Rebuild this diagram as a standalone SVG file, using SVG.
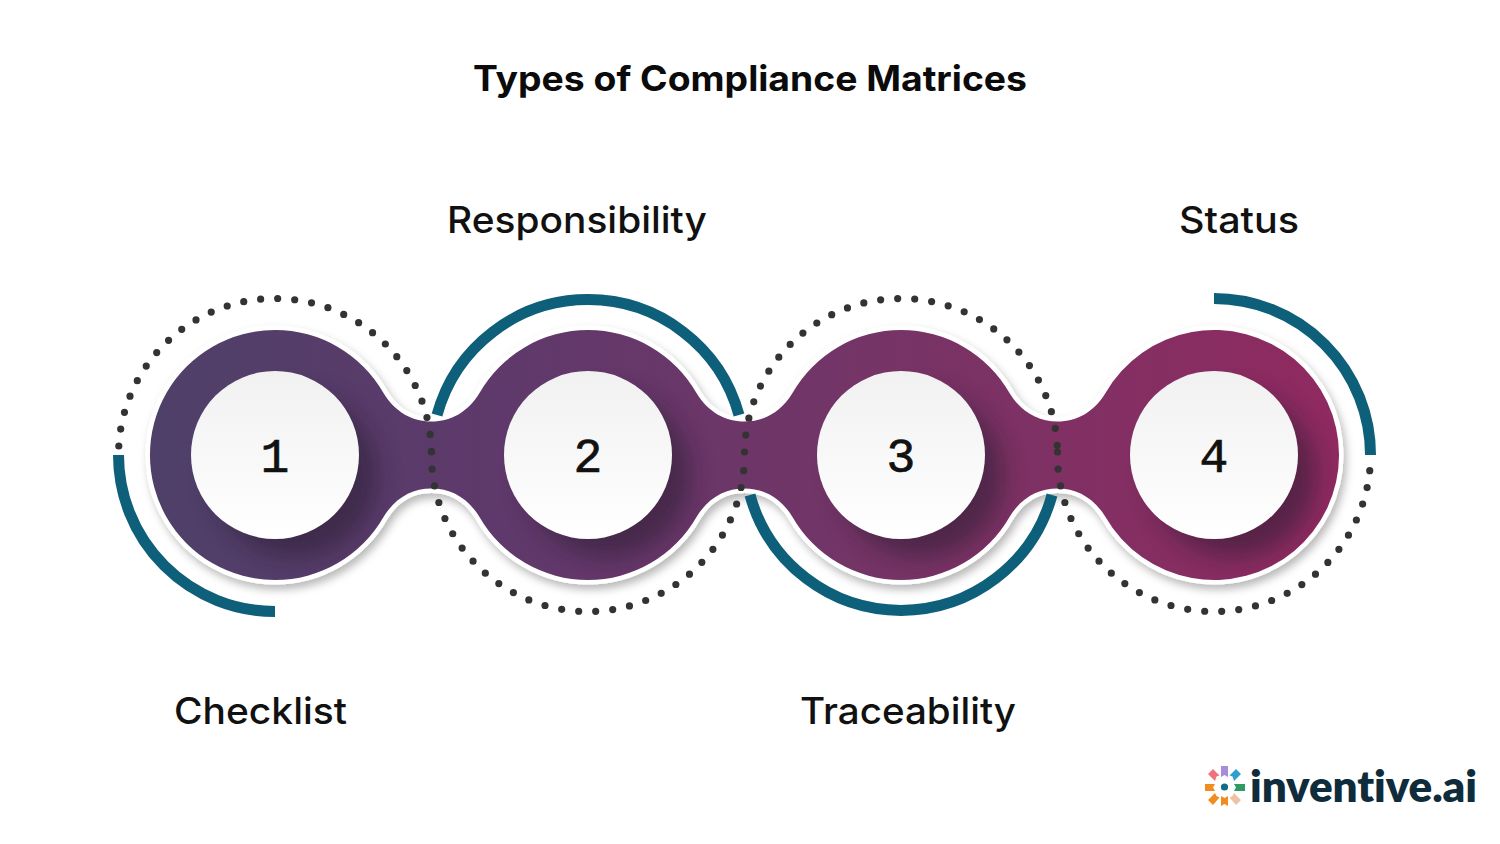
<svg xmlns="http://www.w3.org/2000/svg" width="1500" height="844" viewBox="0 0 1500 844">
<style>
.t{font-family:Inter,"Noto Sans","Liberation Sans",sans-serif;font-size:37px;font-weight:500;fill:#111}
.n{font-family:"Liberation Mono","DejaVu Sans Mono",monospace;font-size:48px;fill:#111;stroke:#111;stroke-width:.7;text-anchor:middle}
.arc{fill:none;stroke:#0e5f79;stroke-width:11}
.dots{fill:none;stroke:#333;stroke-width:7.2;stroke-linecap:round;stroke-dasharray:0 17.1}
.disc{fill:url(#disc)}
.shade{fill:#2a1a30;opacity:.55;filter:url(#blur)}
</style>
<defs>
<linearGradient id="body" gradientUnits="userSpaceOnUse" x1="150" y1="0" x2="1340" y2="0">
<stop offset="0" stop-color="#4e4069"/><stop offset=".3" stop-color="#5f396b"/><stop offset=".62" stop-color="#763466"/><stop offset="1" stop-color="#902a60"/>
</linearGradient>
<linearGradient id="disc" x1="0" y1="0" x2="0" y2="1"><stop offset="0" stop-color="#f1f1f1"/><stop offset="1" stop-color="#fff"/></linearGradient>
<filter id="blur" x="-30%" y="-30%" width="160%" height="160%"><feGaussianBlur stdDeviation="12"/></filter>
<filter id="rim" x="-5%" y="-15%" width="110%" height="130%"><feDropShadow dx="3" dy="5" stdDeviation="4" flood-color="#000" flood-opacity=".28"/></filter>
<path id="blob" d="M166.700 392.500A125 125 0 0 1 383.500 393C395 412 412 421.500 431.500 421.500C451 421.500 468 412 479.500 393A125 125 0 0 1 696.500 393C708 412 725 421.500 744.500 421.500C764 421.500 781 412 792.500 393A125 125 0 0 1 1009.500 393C1021 412 1038 421.500 1057.500 421.500C1077 421.500 1094 412 1105.500 393A125 125 0 1 1 1105.500 517C1094 498 1077 488.500 1057.500 488.500C1038 488.500 1021 498 1009.500 517A125 125 0 0 1 792.500 517C781 498 764 488.500 744.500 488.500C725 488.500 708 498 696.500 517A125 125 0 0 1 479.500 517C468 498 451 488.500 431.500 488.500C412 488.500 395 498 383.500 517A125 125 0 0 1 166.700 517.500A125 125 0 0 1 166.700 392.500Z"/>
<clipPath id="blobclip"><use href="#blob"/></clipPath>
</defs>
<rect width="1500" height="844" fill="#fff"/>
<text x="473" y="91" textLength="554" lengthAdjust="spacingAndGlyphs" style="font-family:Inter,'Noto Sans',sans-serif;font-size:35px;font-weight:700;fill:#0b0b0b">Types of Compliance Matrices</text>
<g id="chain">
<use href="#blob" fill="#fff" stroke="#fff" stroke-width="9" filter="url(#rim)"/>
<use href="#blob" fill="url(#body)"/>
<g clip-path="url(#blobclip)">
<circle class="shade" cx="295" cy="475" r="82"/><circle class="shade" cx="608" cy="475" r="82"/><circle class="shade" cx="921" cy="475" r="82"/><circle class="shade" cx="1234" cy="475" r="82"/>
</g>
</g>
<g id="connectors">
<path class="dots" d="M118.800 446A156.500 156.500 0 0 1 275 298.500A156.500 156.500 0 0 1 431.500 455"/>
<path class="dots" d="M431.500 452A156.500 156.500 0 0 0 588 611.500A156.500 156.500 0 0 0 744.500 455"/>
<path class="dots" d="M744.500 452A156.500 156.500 0 0 1 901 298.500A156.500 156.500 0 0 1 1057.500 455"/>
<path class="dots" d="M1057.500 452A156.500 156.500 0 0 0 1214 611.500A156.500 156.500 0 0 0 1370.200 465"/>
<path class="arc" d="M118.500 455A156.500 156.500 0 0 0 275 611.500"/>
<path class="arc" d="M437 415A156.500 156.500 0 0 1 739 415"/>
<path class="arc" d="M750 495A156.500 156.500 0 0 0 1052 495"/>
<path class="arc" d="M1214 298.500A156.500 156.500 0 0 1 1370.500 455"/>
</g>
<g id="node1"><circle class="disc" cx="275" cy="455" r="84"/><text class="n" x="275" y="471.500">1</text><text class="t" x="174" y="724" textLength="173" lengthAdjust="spacingAndGlyphs">Checklist</text></g>
<g id="node2"><circle class="disc" cx="588" cy="455" r="84"/><text class="n" x="588" y="471.500">2</text><text class="t" x="447" y="233" textLength="260" lengthAdjust="spacingAndGlyphs">Responsibility</text></g>
<g id="node3"><circle class="disc" cx="901" cy="455" r="84"/><text class="n" x="901" y="471.500">3</text><text class="t" x="800" y="724" textLength="216" lengthAdjust="spacingAndGlyphs">Traceability</text></g>
<g id="node4"><circle class="disc" cx="1214" cy="455" r="84"/><text class="n" x="1214" y="471.500">4</text><text class="t" x="1179" y="233" textLength="120" lengthAdjust="spacingAndGlyphs">Status</text></g>
<g id="logo">
<path fill="#a98bdc" d="M1221 766h7v11l-3.500-2-3.500 2z"/>
<path fill="#2f9fd0" d="M1236 769l5 5-7 7-1.500-4.500-3-1z"/>
<path fill="#f0727a" d="M1213 769l-5 5 7 7 1.500-4.500 3-1z"/>
<path fill="#2f9a63" d="M1234 784h11v7h-11l2-3.500z"/>
<path fill="#f28c1e" d="M1215 784h-10v7h10l-2-3.500z"/>
<path fill="#eec3a4" d="M1236 805l5-5-7-7-1.500 3-3 1.500z"/>
<path fill="#f28c1e" d="M1213 805l-5-5 7-7 1.500 3 3 1.500z"/>
<path fill="#f28c1e" d="M1221 806v-10l3.500 2 3.500-2v10l-3.500-2z"/>
<circle cx="1224.500" cy="787" r="3.600" fill="#136b8a"/>
<text x="1250" y="802" textLength="227" lengthAdjust="spacing" style="font-family:Lato,'Noto Sans',sans-serif;font-size:44px;font-weight:800;fill:#0f2c3c;font-variant-ligatures:none">inventive.ai</text>
</g>
</svg>
